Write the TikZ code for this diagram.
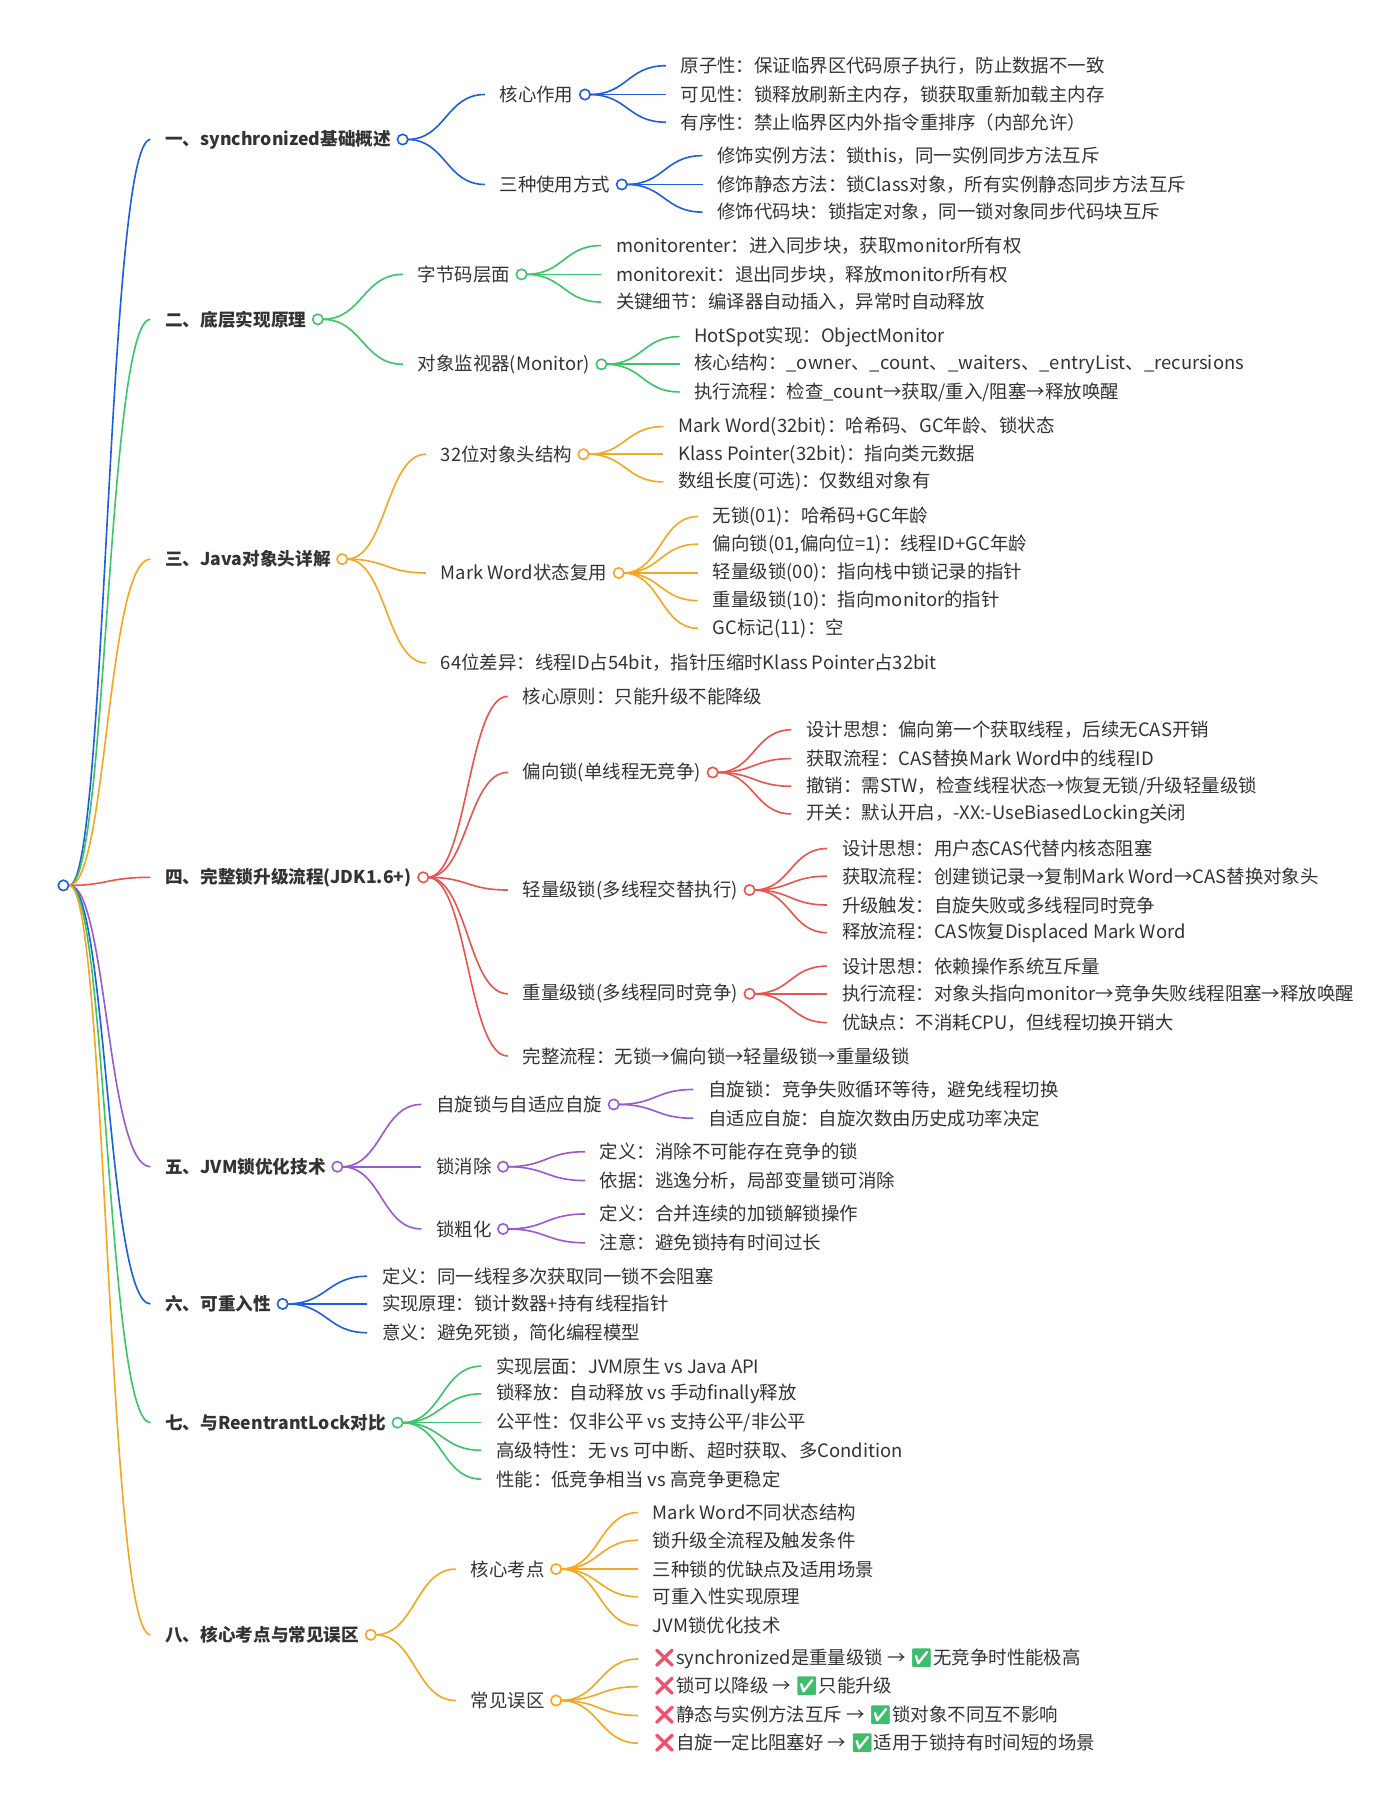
\documentclass[tikz,border=0pt]{standalone}
\usepackage{fontspec}
\setmainfont{Noto Sans CJK SC}
\newfontfamily\emojifont{Noto Emoji}
\usetikzlibrary{positioning,calc}

\definecolor{cblue}{HTML}{1F5FD9}
\definecolor{cgreen}{HTML}{3CC46A}
\definecolor{corange}{HTML}{F5A623}
\definecolor{cred}{HTML}{E8554E}
\definecolor{cpurple}{HTML}{9B59D0}
\definecolor{ink}{HTML}{333333}
\definecolor{xred}{HTML}{F0506E}
\definecolor{xgreen}{HTML}{3DBE6C}

\newcommand{\nomark}{{\color{xred}\emojifont ❌}}
\newcommand{\okmark}{{\color{xgreen}\emojifont ✅}}

\tikzset{
  top/.style = {anchor = west, inner xsep = 0pt, text = ink, font = \fontsize{8.7pt}{11pt}\selectfont\bfseries},
  leaf/.style = {anchor = west, inner xsep = 0pt, text = ink},
  knot/.style = {circle, draw = #1, fill = white, line width = 0.8pt, minimum size = 1.8mm, inner sep = 0pt},
  link/.style = {line width = 0.8pt, to path = {let \p1 = (\tikztostart), \p2 = (\tikztotarget) in
     .. controls ({(\x1+\x2)/2}, \y1) and ({(\x1+\x2)/2}, \y2) .. (\tikztotarget)}}
}

\begin{document}
\begin{tikzpicture}[x = 0.2mm, y = -0.2mm, font = {\fontsize{9.1pt}{11pt}\selectfont}]
\useasboundingbox (0,0) rectangle (1214,1570);

\node[knot = cblue] (root) at (55,768) {};

% level one
\node[top] (s1) at (143,121) {一、synchronized基础概述};
\node[top] (s2) at (143,277) {二、底层实现原理};
\node[top] (s3) at (143,485) {三、Java对象头详解};
\node[top] (s4) at (143,761) {四、完整锁升级流程(JDK1.6+)};
\node[top] (s5) at (143,1012) {五、JVM锁优化技术};
\node[top] (s6) at (143,1131) {六、可重入性};
\node[top] (s7) at (143,1234) {七、与ReentrantLock对比};
\node[top] (s8) at (143,1418) {八、核心考点与常见误区};
\foreach \s/\c in {s1/cblue, s2/cgreen, s3/corange, s4/cred, s5/cpurple, s6/cblue, s7/cgreen, s8/corange}
  \draw[\c, link] (root) to ([xshift = -2.5mm]\s.west);

% one
\node[leaf] (k1) at (433,82) {核心作用};
\node[leaf] (k2) at (433,160) {三种使用方式};
\foreach \y/\t [count = \i] in {57/{原子性：保证临界区代码原子执行，防止数据不一致}, 82/{可见性：锁释放刷新主内存，锁获取重新加载主内存}, 106/{有序性：禁止临界区内外指令重排序（内部允许）}} {
  \node[leaf] (k1-\i) at (590,\y) {\t};
  \draw[cblue, link] ([xshift = 2.7mm]k1.east) to ([xshift = -2.5mm]k1-\i.west);
}
\foreach \y/\t [count = \i] in {135/{修饰实例方法：锁this，同一实例同步方法互斥}, 160/{修饰静态方法：锁Class对象，所有实例静态同步方法互斥}, 184/{修饰代码块：锁指定对象，同一锁对象同步代码块互斥}} {
  \node[leaf] (k2-\i) at (622,\y) {\t};
  \draw[cblue, link] ([xshift = 2.7mm]k2.east) to ([xshift = -2.5mm]k2-\i.west);
}

% two
\node[leaf] (b1) at (362,238) {字节码层面};
\node[leaf] (b2) at (362,316) {对象监视器(Monitor)};
\foreach \y/\t [count = \i] in {213/{monitorenter：进入同步块，获取monitor所有权}, 238/{monitorexit：退出同步块，释放monitor所有权}, 262/{关键细节：编译器自动插入，异常时自动释放}} {
  \node[leaf] (b1-\i) at (534,\y) {\t};
  \draw[cgreen, link] ([xshift = 2.7mm]b1.east) to ([xshift = -2.5mm]b1-\i.west);
}
\foreach \y/\t [count = \i] in {292/{HotSpot实现：ObjectMonitor}, 316/{核心结构：\_owner、\_count、\_waiters、\_entryList、\_recursions}, 340/{执行流程：检查\_count→获取/重入/阻塞→释放唤醒}} {
  \node[leaf] (b2-\i) at (602,\y) {\t};
  \draw[cgreen, link] ([xshift = 2.7mm]b2.east) to ([xshift = -2.5mm]b2-\i.west);
}

% three
\node[leaf] (h1) at (382,394) {32位对象头结构};
\node[leaf] (h2) at (382,497) {Mark Word状态复用};
\node[leaf] (h3) at (382,575) {64位差异：线程ID占54bit，指针压缩时Klass Pointer占32bit};
\foreach \y/\t [count = \i] in {370/{Mark Word(32bit)：哈希码、GC年龄、锁状态}, 394/{Klass Pointer(32bit)：指向类元数据}, 418/{数组长度(可选)：仅数组对象有}} {
  \node[leaf] (h1-\i) at (588,\y) {\t};
  \draw[corange, link] ([xshift = 2.7mm]h1.east) to ([xshift = -2.5mm]h1-\i.west);
}
\foreach \y/\t [count = \i] in {448/{无锁(01)：哈希码+GC年龄}, 472/{偏向锁(01,偏向位=1)：线程ID+GC年龄}, 497/{轻量级锁(00)：指向栈中锁记录的指针}, 521/{重量级锁(10)：指向monitor的指针}, 545/{GC标记(11)：空}} {
  \node[leaf] (h2-\i) at (618,\y) {\t};
  \draw[corange, link] ([xshift = 2.7mm]h2.east) to ([xshift = -2.5mm]h2-\i.west);
}

% four
\node[leaf] (u0) at (453,604) {核心原则：只能升级不能降级};
\node[leaf] (u1) at (453,670) {偏向锁(单线程无竞争)};
\node[leaf] (u2) at (453,772) {轻量级锁(多线程交替执行)};
\node[leaf] (u3) at (453,862) {重量级锁(多线程同时竞争)};
\node[leaf] (u4) at (453,916) {完整流程：无锁→偏向锁→轻量级锁→重量级锁};
\foreach \y/\t [count = \i] in {633/{设计思想：偏向第一个获取线程，后续无CAS开销}, 658/{获取流程：CAS替换Mark Word中的线程ID}, 682/{撤销：需STW，检查线程状态→恢复无锁/升级轻量级锁}, 706/{开关：默认开启，-XX:-UseBiasedLocking关闭}} {
  \node[leaf] (u1-\i) at (699,\y) {\t};
  \draw[cred, link] ([xshift = 2.7mm]u1.east) to ([xshift = -2.5mm]u1-\i.west);
}
\foreach \y/\t [count = \i] in {736/{设计思想：用户态CAS代替内核态阻塞}, 760/{获取流程：创建锁记录→复制Mark Word→CAS替换对象头}, 785/{升级触发：自旋失败或多线程同时竞争}, 809/{释放流程：CAS恢复Displaced Mark Word}} {
  \node[leaf] (u2-\i) at (730,\y) {\t};
  \draw[cred, link] ([xshift = 2.7mm]u2.east) to ([xshift = -2.5mm]u2-\i.west);
}
\foreach \y/\t [count = \i] in {838/{设计思想：依赖操作系统互斥量}, 862/{执行流程：对象头指向monitor→竞争失败线程阻塞→释放唤醒}, 887/{优缺点：不消耗CPU，但线程切换开销大}} {
  \node[leaf] (u3-\i) at (730,\y) {\t};
  \draw[cred, link] ([xshift = 2.7mm]u3.east) to ([xshift = -2.5mm]u3-\i.west);
}

% five
\node[leaf] (v1) at (378,958) {自旋锁与自适应自旋};
\node[leaf] (v2) at (378,1012) {锁消除};
\node[leaf] (v3) at (378,1066) {锁粗化};
\foreach \y/\t [count = \i] in {945/{自旋锁：竞争失败循环等待，避免线程切换}, 970/{自适应自旋：自旋次数由历史成功率决定}} {
  \node[leaf] (v1-\i) at (614,\y) {\t};
  \draw[cpurple, link] ([xshift = 2.7mm]v1.east) to ([xshift = -2.5mm]v1-\i.west);
}
\foreach \y/\t [count = \i] in {999/{定义：消除不可能存在竞争的锁}, 1024/{依据：逃逸分析，局部变量锁可消除}} {
  \node[leaf] (v2-\i) at (520,\y) {\t};
  \draw[cpurple, link] ([xshift = 2.7mm]v2.east) to ([xshift = -2.5mm]v2-\i.west);
}
\foreach \y/\t [count = \i] in {1053/{定义：合并连续的加锁解锁操作}, 1078/{注意：避免锁持有时间过长}} {
  \node[leaf] (v3-\i) at (520,\y) {\t};
  \draw[cpurple, link] ([xshift = 2.7mm]v3.east) to ([xshift = -2.5mm]v3-\i.west);
}

% six
\foreach \y/\t [count = \i] in {1107/{定义：同一线程多次获取同一锁不会阻塞}, 1131/{实现原理：锁计数器+持有线程指针}, 1156/{意义：避免死锁，简化编程模型}} {
  \node[leaf] (s6-\i) at (331,\y) {\t};
  \draw[cblue, link] ([xshift = 2.7mm]s6.east) to ([xshift = -2.5mm]s6-\i.west);
}

% seven
\foreach \y/\t [count = \i] in {1185/{实现层面：JVM原生 vs Java API}, 1209/{锁释放：自动释放 vs 手动finally释放}, 1234/{公平性：仅非公平 vs 支持公平/非公平}, 1258/{高级特性：无 vs 可中断、超时获取、多Condition}, 1283/{性能：低竞争相当 vs 高竞争更稳定}} {
  \node[leaf] (s7-\i) at (430,\y) {\t};
  \draw[cgreen, link] ([xshift = 2.7mm]s7.east) to ([xshift = -2.5mm]s7-\i.west);
}

% eight
\node[leaf] (p1) at (408,1361) {核心考点};
\node[leaf] (p2) at (408,1475) {常见误区};
\foreach \y/\t [count = \i] in {1312/{Mark Word不同状态结构}, 1336/{锁升级全流程及触发条件}, 1361/{三种锁的优缺点及适用场景}, 1385/{可重入性实现原理}, 1410/{JVM锁优化技术}} {
  \node[leaf] (p1-\i) at (566,\y) {\t};
  \draw[corange, link] ([xshift = 2.7mm]p1.east) to ([xshift = -2.5mm]p1-\i.west);
}
\foreach \y/\t [count = \i] in {1439/{\nomark synchronized是重量级锁 → \okmark 无竞争时性能极高}, 1463/{\nomark 锁可以降级 → \okmark 只能升级}, 1488/{\nomark 静态与实例方法互斥 → \okmark 锁对象不同互不影响}, 1512/{\nomark 自旋一定比阻塞好 → \okmark 适用于锁持有时间短的场景}} {
  \node[leaf] (p2-\i) at (566,\y) {\t};
  \draw[corange, link] ([xshift = 2.7mm]p2.east) to ([xshift = -2.5mm]p2-\i.west);
}

% second level links
\foreach \a/\b/\c in {s1/k1/cblue, s1/k2/cblue, s2/b1/cgreen, s2/b2/cgreen, s3/h1/corange, s3/h2/corange, s3/h3/corange,
  s4/u0/cred, s4/u1/cred, s4/u2/cred, s4/u3/cred, s4/u4/cred, s5/v1/cpurple, s5/v2/cpurple, s5/v3/cpurple, s8/p1/corange, s8/p2/corange}
  \draw[\c, link] ([xshift = 2.7mm]\a.east) to ([xshift = -2.5mm]\b.west);

% knots
\foreach \n/\c in {s1/cblue, s2/cgreen, s3/corange, s4/cred, s5/cpurple, s6/cblue, s7/cgreen, s8/corange,
  k1/cblue, k2/cblue, b1/cgreen, b2/cgreen, h1/corange, h2/corange, u1/cred, u2/cred, u3/cred,
  v1/cpurple, v2/cpurple, v3/cpurple, p1/corange, p2/corange}
  \node[knot = \c, right = 0.9mm of \n] (\n-o) {};
\end{tikzpicture}
\end{document}
